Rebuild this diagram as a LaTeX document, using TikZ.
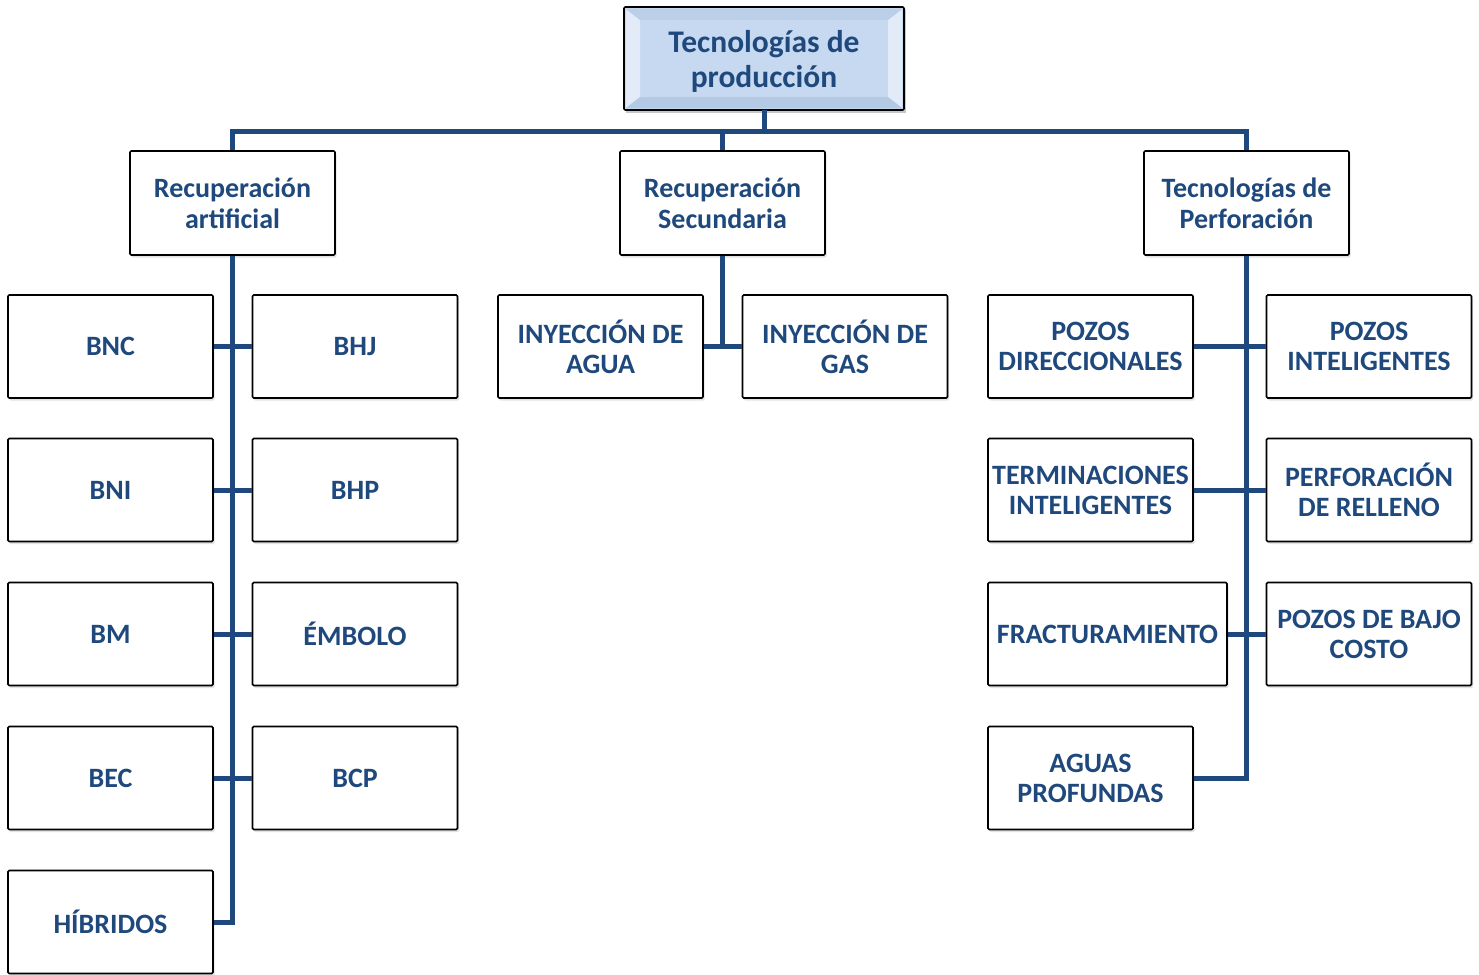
\documentclass[tikz,border=0pt]{standalone}
\usepackage{fontspec}
\setmainfont{Carlito}
\usetikzlibrary{shadows}
\definecolor{navy}{HTML}{1F497D}
\definecolor{topfill}{HTML}{C6D9F1}
\definecolor{toplight}{HTML}{E2EBF7}
\definecolor{topdark}{HTML}{B4C9E3}
\tikzset{
  box/.style={draw=black, line width=1.6pt, rounded corners=1.2pt, fill=white,
    drop shadow={shadow xshift=1.5pt, shadow yshift=-2.5pt, opacity=0.22},
    minimum width=205pt, minimum height=103pt, inner sep=0pt,
    align=center, text=navy, font=\fontsize{28}{30}\selectfont\bfseries},
  wide/.style={box, minimum width=239pt},
  headbox/.style={box, minimum height=104pt, font=\fontsize{28}{31}\selectfont\bfseries},
  rootlabel/.style={minimum width=280pt, minimum height=103pt, inner sep=0pt,
    align=center, text=navy, font=\fontsize{31.5}{35}\selectfont\bfseries},
  conn/.style={draw=navy, line width=5pt, line join=miter, line cap=butt},
}
\begin{document}
\begin{tikzpicture}[x=1pt,y=-1pt]
\path[use as bounding box, clip] (0,0) rectangle (1479,974);
\fill[white] (0,0) rectangle (1479,974);

% root box: bevelled light-blue face with a soft shadow
\fill[black, opacity=0.22] (625.5,9.5) rectangle (905.5,112.5);
\fill[topfill] (624,7) rectangle (904,110);
\fill[toplight] (626,9) -- (640,20) -- (640,97) -- (626,108) -- cycle;
\fill[toplight] (902,9) -- (888,20) -- (888,97) -- (902,108) -- cycle;
\fill[topdark!60!topfill] (626,9) -- (902,9) -- (888,20) -- (640,20) -- cycle;
\fill[topdark] (626,108) -- (902,108) -- (888,97) -- (640,97) -- cycle;
\draw[black, line width=1.6pt, rounded corners=1.2pt] (624,7) rectangle (904,110);
\node[rootlabel, text depth=0pt] (top) at (764,58.5) {Tecnologías de\\producción};

% second level
\node[headbox] (ra) at (232.5,203) {Recuperación\\artificial};
\node[headbox] (rs) at (722.5,203) {Recuperación\\Secundaria};
\node[headbox] (tp) at (1246.5,203) {Tecnologías de\\Perforación};

% artificial lift methods
\node[box] (bnc) at (110.5,346.5) {BNC};
\node[box] (bhj) at (355,346.5) {BHJ};
\node[box] (bni) at (110.5,490) {BNI};
\node[box] (bhp) at (355,490) {BHP};
\node[box] (bm) at (110.5,634) {BM};
\node[box] (emb) at (355,634) {ÉMBOLO};
\node[box] (bec) at (110.5,778) {BEC};
\node[box] (bcp) at (355,778) {BCP};
\node[box] (hib) at (110.5,922) {HÍBRIDOS};

% secondary recovery
\node[box] (agua) at (600.5,346.5) {INYECCIÓN DE\\AGUA};
\node[box] (gas) at (845,346.5) {INYECCIÓN DE\\GAS};

% drilling technologies
\node[box] (dir) at (1090.5,346.5) {POZOS\\DIRECCIONALES};
\node[box] (intel) at (1369,346.5) {POZOS\\INTELIGENTES};
\node[box] (term) at (1090.5,490) {TERMINACIONES\\INTELIGENTES};
\node[box] (relleno) at (1369,490) {PERFORACIÓN\\DE RELLENO};
\node[wide] (frac) at (1107.5,634) {FRACTURAMIENTO};
\node[box] (bajo) at (1369,634) {POZOS DE BAJO\\COSTO};
\node[box] (prof) at (1090.5,778) {AGUAS\\PROFUNDAS};

% connectors
\coordinate (bus) at (764,131);
\path[conn] (top.south) -- (bus);
\path[conn] (ra.north) -- (ra.north |- bus) -- (tp.north |- bus) -- (tp.north);
\path[conn] (rs.north |- bus) -- (rs.north);

\path[conn] (ra.south) -- (ra.south |- hib.east) -- (hib.east);
\path[conn] (bnc.east) -- (bhj.west);
\path[conn] (bni.east) -- (bhp.west);
\path[conn] (bm.east) -- (emb.west);
\path[conn] (bec.east) -- (bcp.west);

\path[conn] (rs.south) -- (rs.south |- agua.east);
\path[conn] (agua.east) -- (gas.west);

\path[conn] (tp.south) -- (tp.south |- prof.east) -- (prof.east);
\path[conn] (dir.east) -- (intel.west);
\path[conn] (term.east) -- (relleno.west);
\path[conn] (frac.east) -- (bajo.west);
\end{tikzpicture}
\end{document}
